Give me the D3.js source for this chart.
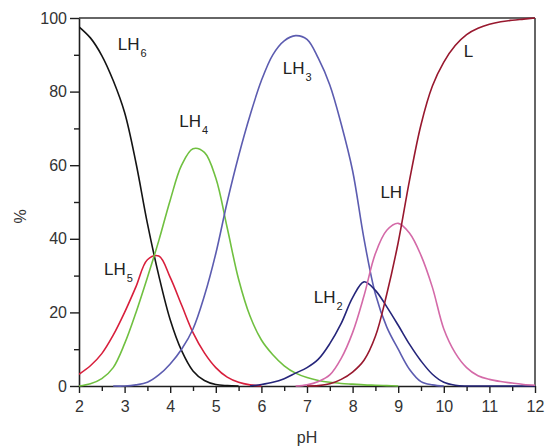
<!DOCTYPE html>
<html><head><meta charset="utf-8">
<script src="https://cdn.jsdelivr.net/npm/d3@7"></script>
<style>body{margin:0;background:#fff}svg{display:block}text{font-family:"Liberation Sans",Arial,sans-serif}</style>
</head><body><svg id="c" width="546" height="446"></svg>
<script>
const pH = [2,2.25,2.5,2.75,3,3.25,3.5,3.75,4,4.25,4.5,4.75,5,5.25,5.5,5.75,6,6.25,6.5,6.75,7,7.25,7.5,7.75,8,8.25,8.5,8.75,9,9.25,9.5,9.75,10,10.25,10.5,10.75,11,11.25,11.5,11.75,12];
const LH6 = [97.6,94.6,89.8,83.0,74.3,60.6,44.2,30.0,18.0,9.6,4.1,1.5,0.4,0.1,0,null,null,null,null,null,null,null,null,null,null,null,null,null,null,null,null,null,null,null,null,null,null,null,null,null,null];
const LH5 = [3.2,5.5,8.8,13.8,20.0,27.0,34.3,35.3,29.5,22.0,14.5,9.0,5.0,2.4,1.0,0.3,0,null,null,null,null,null,null,null,null,null,null,null,null,null,null,null,null,null,null,null,null,null,null,null,null];
const LH4 = [0,0.6,2.0,5.0,11.5,20.0,29.5,39.5,50.5,60.0,64.5,63.5,56.5,43.0,29.0,19.0,12.5,8.5,5.5,3.5,2.3,1.5,1.0,0.7,0.5,0.3,0.2,0.1,0,null,null,null,null,null,null,null,null,null,null,null,null];
const LH3 = [null,null,null,0,0,0.3,1.0,3.0,6.0,10.0,15.5,24.5,36.0,50.0,62.5,73.5,83.0,90.0,93.8,95.2,94.2,89.0,81.8,71.2,58.5,40.0,25.0,16.0,10.0,4.5,1.2,0.3,0,null,null,null,null,null,null,null,null];
const LH2 = [null,null,null,null,null,null,null,null,null,null,null,null,null,null,null,0,0.4,1.0,2.0,3.5,5.0,7.3,11.5,17.0,24.0,28.3,26.0,21.5,16.5,11.3,6.8,3.2,1.0,0.2,0,0,0,0,0,0,0];
const LH1 = [null,null,null,null,null,null,null,null,null,null,null,null,null,null,null,null,null,null,null,0,0.3,1.2,3.0,7.5,14.5,24.5,36.0,42.3,44.2,41.5,35.5,26.8,15.5,9.0,5.0,2.8,1.8,1.2,0.8,0.4,0.2];
const L0 = [null,null,null,null,null,null,null,null,null,null,null,null,null,null,null,null,null,null,null,null,0,0.1,0.6,1.8,3.8,7.0,13.5,25.0,39.0,56.0,71.0,81.5,88.0,92.5,95.5,97.2,98.3,99.0,99.4,99.7,100];
const seriesNames = ["LH6","LH5","LH4","LH3","LH2","LH","L"];
const xTicks = [2,3,4,5,6,7,8,9,10,11,12];
const xMinor = [2.5,3.5,4.5,5.5,6.5,7.5,8.5,9.5,10.5,11.5];
const yTicks = [0,20,40,60,80,100];
const yMinor = [10,30,50,70,90];
const xTitle = "pH", yTitle = "%";

const svg = d3.select("#c");
const x = d3.scaleLinear().domain([2,12]).range([79,535]);
const y = d3.scaleLinear().domain([0,100]).range([386,18]);
const axisColor = "#1e1e1e", textColor = "#333";

svg.append("defs").append("clipPath").attr("id","clip").append("rect")
  .attr("x",79).attr("y",16).attr("width",457).attr("height",371);

svg.append("line").attr("x1",79).attr("x2",535).attr("y1",y(100)).attr("y2",y(100))
  .attr("stroke","#333").attr("stroke-width",1.5);
svg.append("line").attr("x1",x(12)).attr("x2",x(12)).attr("y1",y(100)).attr("y2",y(0))
  .attr("stroke","#333").attr("stroke-width",1.5);

function styleAxis(g){
  g.select(".domain").attr("stroke",axisColor).attr("stroke-width",1.6);
  g.selectAll(".tick line").attr("stroke",axisColor).attr("stroke-width",1.4);
  g.selectAll(".tick text").attr("fill",textColor).attr("font-size",16)
    .attr("font-family",'"Liberation Sans",Arial,sans-serif');
}
const gx = svg.append("g").attr("transform","translate(0,386)")
  .call(d3.axisBottom(x).tickValues(xTicks).tickSize(7).tickPadding(7.5).tickSizeOuter(0).tickFormat(d3.format("d")));
styleAxis(gx);
const gxm = svg.append("g").attr("transform","translate(0,386)")
  .call(d3.axisBottom(x).tickValues(xMinor).tickSize(5).tickFormat(""));
gxm.select(".domain").remove();
gxm.selectAll(".tick line").attr("stroke",axisColor).attr("stroke-width",1.4);

const gy = svg.append("g").attr("transform","translate(79,0)")
  .call(d3.axisLeft(y).tickValues(yTicks).tickSize(9).tickPadding(3).tickSizeOuter(0));
styleAxis(gy);
const gym = svg.append("g").attr("transform","translate(79,0)")
  .call(d3.axisLeft(y).tickValues(yMinor).tickSize(5).tickFormat(""));
gym.select(".domain").remove();
gym.selectAll(".tick line").attr("stroke",axisColor).attr("stroke-width",1.4);

const series = [
  {v:LH6, c:"#141414"},
  {v:LH5, c:"#d81f3c"},
  {v:LH4, c:"#70c040"},
  {v:LH3, c:"#5c5cb0"},
  {v:LH2, c:"#25257a"},
  {v:LH1, c:"#d46aa8"},
  {v:L0,  c:"#98182e"}
];
const line = d3.line()
  .defined(d => d[1] != null)
  .x(d => x(d[0])).y(d => y(Math.max(0, d[1])))
  .curve(d3.curveCatmullRom.alpha(0.5));
const plot = svg.append("g").attr("clip-path","url(#clip)");
series.forEach(s => {
  plot.append("path").datum(pH.map((p,i)=>[p,s.v[i]]))
    .attr("d", line).attr("fill","none").attr("stroke", s.c).attr("stroke-width",1.6);
});

const labelPos = [[2.85,91.3],[2.55,30.2],[4.20,70.5],[6.47,84.8],[7.15,22.6],[8.61,51.0],[10.44,89.4]];
seriesNames.forEach((n,i) => {
  const t = svg.append("text").attr("x", x(labelPos[i][0])).attr("y", y(labelPos[i][1]))
    .attr("fill","#222").attr("font-size",17);
  const base = n.replace(/[0-9]/g,"");
  const sub = n.replace(/[^0-9]/g,"");
  t.append("tspan").text(base);
  if (sub) t.append("tspan").attr("font-size",11).attr("dx",1).attr("dy",7).text(sub);
});

svg.append("text").attr("x",307).attr("y",442.5).attr("text-anchor","middle")
  .attr("font-size",16).attr("fill",textColor).text(xTitle);
svg.append("text").attr("transform","translate(26,216.5) rotate(-90)").attr("text-anchor","middle")
  .attr("font-size",16).attr("fill",textColor).text(yTitle);
</script></body></html>
